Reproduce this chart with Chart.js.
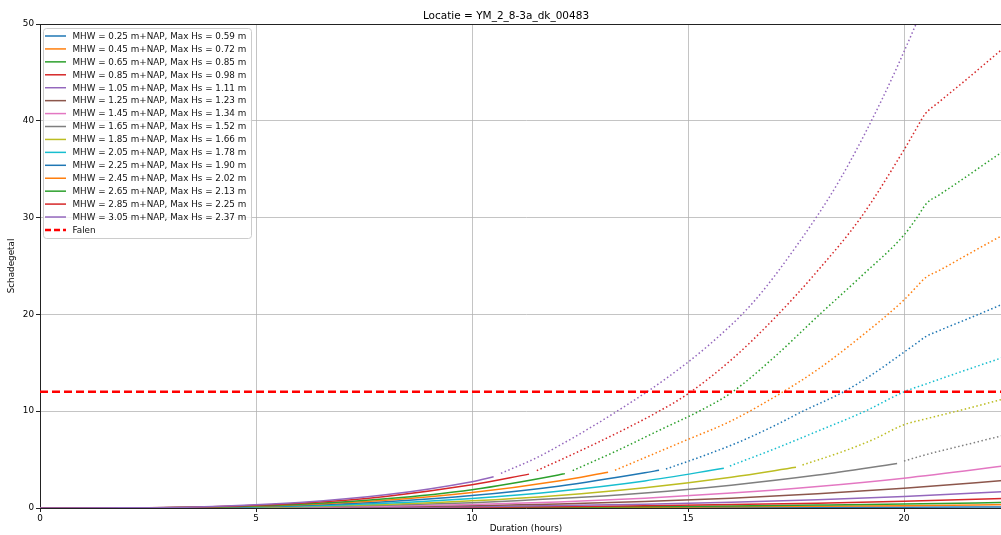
<!DOCTYPE html>
<html><head><meta charset="utf-8">
<script src="https://cdn.jsdelivr.net/npm/chart.js@4/dist/chart.umd.min.js"></script>
<style>
html,body{margin:0;padding:0;overflow:hidden;background:#fff;width:1001px;height:535px}
#wrap{position:relative;width:1051px;height:535px}
canvas{display:block}
</style></head>
<body><div id="wrap"><canvas id="c" width="1051" height="535" style="width:1051px;height:535px"></canvas></div>
<script>
// ---------------- data ----------------
const titleText = 'Locatie = YM_2_8-3a_dk_00483';
const mhw   = [0.25, 0.45, 0.65, 0.85, 1.05, 1.25, 1.45, 1.65, 1.85, 2.05, 2.25, 2.45, 2.65, 2.85, 3.05];
const maxHs = [0.59, 0.72, 0.85, 0.98, 1.11, 1.23, 1.34, 1.52, 1.66, 1.78, 1.90, 2.02, 2.13, 2.25, 2.37];
const falenLevel = 12;
const xTicks = [0, 5, 10, 15, 20];
const yTicks = [0, 10, 20, 30, 40, 50];

// solid part: values at gridHours (until the solid end) + value at solidEnd
const gridHours = [0, 2, 4, 6, 8, 10, 12, 14, 16, 18, 20, 22.5];
const solidEnd  = [22.5, 22.5, 22.5, 22.5, 22.5, 22.5, 22.5, 19.84, 17.5, 15.83, 14.33, 13.15, 12.15, 11.32, 10.5];
const solid025 = [0, 0.0001, 0.0005, 0.0019, 0.0047, 0.0093, 0.016, 0.026, 0.04, 0.058, 0.08, 0.115];
const solid045 = [0, 0.0002, 0.0016, 0.0057, 0.014, 0.028, 0.049, 0.079, 0.12, 0.17, 0.24, 0.35];
const solid065 = [0, 0.0003, 0.0028, 0.0098, 0.024, 0.048, 0.084, 0.136, 0.205, 0.3, 0.41, 0.59];
const solid085 = [0, 0.0005, 0.0047, 0.017, 0.04, 0.08, 0.14, 0.23, 0.35, 0.5, 0.69, 1.0];
const solid105 = [0, 0.001, 0.008, 0.029, 0.07, 0.14, 0.25, 0.4, 0.6, 0.86, 1.2, 1.73];
const solid125 = [0, 0.0016, 0.014, 0.049, 0.12, 0.24, 0.42, 0.67, 1.02, 1.46, 2.03, 2.92];
const solid145 = [0, 0.0024, 0.021, 0.074, 0.18, 0.36, 0.63, 1.02, 1.54, 2.22, 3.08, 4.43];
const solid165 = [0, 0.0037, 0.032, 0.11, 0.28, 0.55, 0.97, 1.56, 2.36, 3.4, 4.6];
const solid185 = [0, 0.005, 0.043, 0.15, 0.37, 0.74, 1.3, 2.1, 3.18, 4.2];
const solid205 = [0, 0.0067, 0.058, 0.2, 0.49, 0.99, 1.74, 2.8, 4.1];
const solid225 = [0, 0.0087, 0.075, 0.26, 0.64, 1.28, 2.25, 3.63, 3.9];
const solid245 = [0, 0.011, 0.093, 0.33, 0.79, 1.59, 2.79, 3.7];
const solid265 = [0, 0.013, 0.11, 0.39, 0.95, 1.89, 3.41, 3.55];
const solid285 = [0, 0.016, 0.14, 0.49, 1.2, 2.39, 3.5];
const solid305 = [0, 0.02, 0.16, 0.56, 1.36, 2.72, 3.22];

// dotted continuation (hours / values)
const dotHours165 = [20.0, 20.5, 21.4, 22.25, 22.5];
const dotVals165  = [4.85, 5.5, 6.5, 7.44, 7.7];
const dotHours185 = [17.65, 18.5, 19.3, 20.0, 20.5, 21.4, 22.25, 22.5];
const dotVals185  = [4.45, 5.7, 7.1, 8.6, 9.2, 10.2, 11.2, 11.5];
const dotHours205 = [15.97, 17.0, 17.98, 19.1, 20.0, 20.5, 21.4, 22.25, 22.5];
const dotVals205  = [4.34, 6.1, 7.9, 10.0, 12.0, 12.8, 14.2, 15.5, 15.9];
const dotHours225 = [14.49, 15.3, 16.2, 17.0, 17.66, 18.6, 19.3, 20.0, 20.3, 20.5, 20.8, 21.4, 22.25, 22.5];
const dotVals225  = [4.03, 5.3, 6.85, 8.5, 10.0, 12.0, 13.9, 16.1, 17.05, 17.7, 18.3, 19.4, 21.0, 21.5];
const dotHours245 = [13.31, 14.9, 16.0, 17.2, 18.0, 19.0, 20.0, 20.3, 20.5, 20.8, 21.4, 22.25, 22.5];
const dotVals245  = [3.9, 6.9, 9.0, 12.0, 14.3, 17.7, 21.5, 22.9, 23.8, 24.5, 26.0, 28.1, 28.7];
const dotHours265 = [12.33, 13.3, 14.35, 15.28, 16.0, 17.0, 18.0, 19.0, 20.0, 20.3, 20.53, 20.8, 21.4, 22.25, 22.5];
const dotVals265  = [3.86, 5.8, 8.06, 10.05, 11.9, 15.6, 19.8, 23.9, 28.2, 30.0, 31.5, 32.3, 34.1, 36.7, 37.4];
const dotHours285 = [11.5, 12.5, 13.5, 14.33, 15.0, 16.0, 17.0, 18.0, 19.0, 20.0, 20.3, 20.49, 20.8, 21.4, 22.25, 22.5];
const dotVals285  = [3.86, 5.9, 8.06, 10.0, 11.8, 15.3, 19.6, 24.5, 30.0, 37.0, 39.3, 40.7, 41.9, 44.1, 47.3, 48.2];
const dotHours305 = [10.67, 11.5, 12.0, 12.65, 13.5, 14.5, 15.5, 16.5, 17.5, 18.5, 19.5, 20.25, 20.5];
const dotVals305  = [3.58, 5.2, 6.4, 8.06, 10.4, 13.4, 16.9, 21.2, 27.0, 33.8, 42.3, 49.7, 52.4];

const colors = ['#1f77b4','#ff7f0e','#2ca02c','#d62728','#9467bd','#8c564b','#e377c2','#7f7f7f','#bcbd22','#17becf',
                '#1f77b4','#ff7f0e','#2ca02c','#d62728','#9467bd'];

// ---------------- build ----------------
const solids = [solid025, solid045, solid065, solid085, solid105, solid125, solid145, solid165,
                solid185, solid205, solid225, solid245, solid265, solid285, solid305];
const dotted = {7:[dotHours165,dotVals165], 8:[dotHours185,dotVals185], 9:[dotHours205,dotVals205],
                10:[dotHours225,dotVals225], 11:[dotHours245,dotVals245], 12:[dotHours265,dotVals265],
                13:[dotHours285,dotVals285], 14:[dotHours305,dotVals305]};
const labels = mhw.map((m,i)=>`MHW = ${m.toFixed(2)} m+NAP, Max Hs = ${maxHs[i].toFixed(2)} m`);

const datasets = [];
datasets.push({label:'Falen', data:[{x:0,y:falenLevel},{x:30,y:falenLevel}], borderColor:'#ff0000',
  borderWidth:2.5, borderDash:[8,4], pointRadius:0, order:0, fill:false});
solids.forEach((vals,i)=>{
  const hrs = gridHours.filter(h=>h<solidEnd[i]).concat([solidEnd[i]]);
  datasets.push({label:labels[i], data:vals.map((v,k)=>({x:hrs[k], y:v})), borderColor:colors[i],
    borderWidth:1.5, pointRadius:0, cubicInterpolationMode:'monotone', order:100-i, fill:false});
  if (dotted[i]) {
    const [dh,dv] = dotted[i];
    datasets.push({label:labels[i]+' (dotted)', data:dv.map((v,k)=>({x:dh[k], y:v})), borderColor:colors[i],
      borderWidth:1.5, borderDash:[1.5,2.5], pointRadius:0, cubicInterpolationMode:'monotone', order:100-i, fill:false});
  }
});

const FONT = 'DejaVu Sans';
Chart.defaults.font.family = FONT;
Chart.defaults.font.size = 8.8;
Chart.defaults.color = '#000';

const framePlugin = {
  id:'frame',
  afterDraw(chart){
    const {ctx, chartArea:a} = chart;
    ctx.save();
    ctx.strokeStyle = '#222'; ctx.lineWidth = 1;
    ctx.beginPath();
    ctx.moveTo(a.left, Math.round(a.top)+0.5); ctx.lineTo(a.right, Math.round(a.top)+0.5);
    ctx.moveTo(Math.round(a.right)-0.5, a.top); ctx.lineTo(Math.round(a.right)-0.5, a.bottom);
    ctx.stroke();
    // legend
    const bx = 43.5, by = 28.5, bw = 208, bh = 210;
    ctx.beginPath();
    ctx.roundRect(bx, by, bw, bh, 3);
    ctx.fillStyle = 'rgba(255,255,255,0.8)'; ctx.fill();
    ctx.strokeStyle = '#cccccc'; ctx.lineWidth = 1; ctx.stroke();
    const items = labels.map((l,i)=>({text:l, color:colors[i], dash:[]}));
    items.push({text:'Falen', color:'#ff0000', dash:[6,3], width:2.5});
    ctx.font = `8.8px "${FONT}"`;
    ctx.textBaseline = 'middle'; ctx.textAlign = 'left';
    items.forEach((it,i)=>{
      const y = 36 + 12.93*i;
      ctx.beginPath();
      ctx.setLineDash(it.dash);
      ctx.strokeStyle = it.color; ctx.lineWidth = it.width || 1.5;
      ctx.moveTo(45, y); ctx.lineTo(66, y); ctx.stroke();
      ctx.setLineDash([]);
      ctx.fillStyle = '#111';
      ctx.fillText(it.text, 72.5, y+0.5);
    });
    ctx.restore();
  }
};

new Chart(document.getElementById('c'), {
  type:'line',
  data:{datasets},
  options:{
    responsive:false, devicePixelRatio:1, animation:false,
    layout:{padding:{left:0, top:0, right:39, bottom:0}},
    plugins:{
      legend:{display:false}, tooltip:{enabled:false},
      title:{display:true, text:titleText, color:'#000', font:{family:FONT, size:10.5, weight:'normal', lineHeight:1.2},
        padding:{top:9.5, bottom:1.9}}
    },
    scales:{
      x:{type:'linear', min:0, max:22.5,
        afterFit:(s)=>{s.height = 27;},
        afterBuildTicks:(s)=>{s.ticks = xTicks.map(v=>({value:v}));},
        ticks:{includeBounds:false, padding:1, maxRotation:0, color:'#000', font:{size:8.8}},
        grid:{color:'rgba(176,176,176,0.75)', lineWidth:1, tickLength:4, tickColor:'#222', tickWidth:1},
        border:{display:true, color:'#222', width:1},
        title:{display:true, text:'Duration (hours)', color:'#000', font:{size:8.8, lineHeight:1.2}, padding:{top:0, bottom:0.7}}
      },
      y:{type:'linear', min:0, max:50,
        afterFit:(s)=>{s.width = 40;},
        afterBuildTicks:(s)=>{s.ticks = yTicks.map(v=>({value:v}));},
        ticks:{padding:2, color:'#000', font:{size:8.8}},
        grid:{color:'rgba(176,176,176,0.75)', lineWidth:1, tickLength:4, tickColor:'#222', tickWidth:1},
        border:{display:true, color:'#222', width:1},
        title:{display:true, text:'Schadegetal', color:'#000', font:{size:8.8, lineHeight:1.2}, padding:{top:6.5, bottom:0}}
      }
    }
  },
  plugins:[framePlugin]
});
</script>
</body></html>
